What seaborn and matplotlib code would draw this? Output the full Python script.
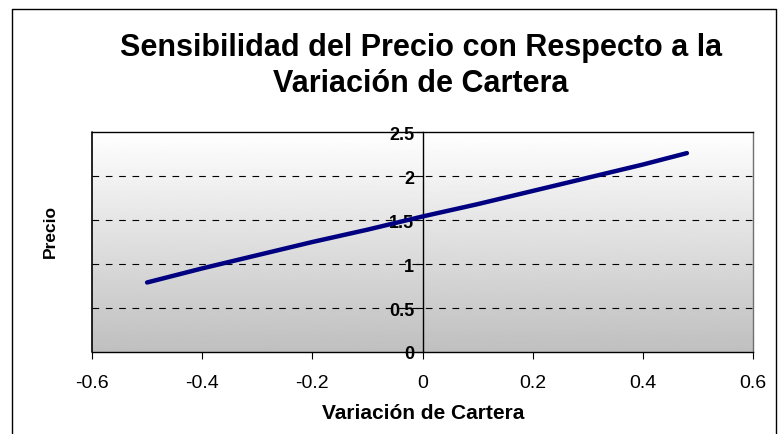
import numpy as np
import matplotlib
matplotlib.use("Agg")
import matplotlib.pyplot as plt
import pandas as pd
import seaborn as sns
from matplotlib.lines import Line2D

# values
variacion = [-0.5, -0.4, -0.3, -0.2, -0.1, 0.0, 0.1, 0.2, 0.3, 0.4, 0.48]
precio = [0.79, 0.95, 1.10, 1.25, 1.39, 1.54, 1.68, 1.83, 1.98, 2.13, 2.26]
x_ticks = [-0.6, -0.4, -0.2, 0, 0.2, 0.4, 0.6]
x_labels = ["-0.6", "-0.4", "-0.2", "0", "0.2", "0.4", "0.6"]
y_ticks = [0, 0.5, 1, 1.5, 2, 2.5]
y_labels = ["0", "0.5", "1", "1.5", "2", "2.5"]
grid_lines = [0.5, 1, 1.5, 2]

data = pd.DataFrame({"Variacion": variacion, "Precio": precio})

sns.set_style("white")
plt.rcParams['font.family'] = ['Liberation Sans', 'DejaVu Sans']
plt.rcParams['text.color'] = 'black'
plt.rcParams['xtick.color'] = 'black'
plt.rcParams['ytick.color'] = 'black'

fig = plt.figure(figsize=(7.78, 4.35), dpi=100)
ax = fig.add_axes([92 / 778, 82 / 435, 661 / 778, 220 / 435])

# grey gradient background, white on top
grad = np.linspace(1, 0, 256).reshape(-1, 1)
ax.imshow(grad, extent=[0, 1, 0, 1], transform=ax.transAxes, aspect="auto",
          cmap="gray", vmin=-3.0, vmax=1.0, zorder=0)

for g in grid_lines:
    ax.axhline(g, color="black", lw=0.8, ls=(0, (6, 6)), zorder=1)

sns.lineplot(data=data, x="Variacion", y="Precio", color="#000080",
             linewidth=3.2, ax=ax, zorder=3)

# y axis crosses at x = 0 (set before tick labels, it resets them)
ax.spines['left'].set_position(('data', 0))
ax.spines['left'].set_zorder(2)

ax.set_xlim(-0.6, 0.6)
ax.set_ylim(0, 2.5)
ax.set_xticks(x_ticks)
ax.set_xticklabels(x_labels, fontsize=14)
ax.set_yticks(y_ticks)
ax.set_yticklabels(y_labels, fontsize=13, fontweight="bold")

for s in ['left', 'bottom', 'top']:
    ax.spines[s].set_color("black")
    ax.spines[s].set_linewidth(1.0)
ax.spines['right'].set_color("#707070")
ax.spines['right'].set_linewidth(1.0)
ax.add_line(Line2D([0, 0], [0, 1], transform=ax.transAxes, color="black",
                   lw=1.2, clip_on=False, zorder=4))
ax.tick_params(axis="both", direction="out", length=5, width=0.8,
               color="black", bottom=True, left=True)
ax.tick_params(axis="x", pad=11)
ax.tick_params(axis="y", pad=1)

ax.set_xlabel("")
ax.set_ylabel("")
fig.text(423 / 778, 1 - 414 / 435, "Variación de Cartera", ha="center",
         va="center", fontsize=15, fontweight="bold")
fig.text(50 / 778, 1 - 232 / 435, "Precio", ha="center", va="center",
         rotation=90, fontsize=12.5, fontweight="bold")

fig.text(421 / 778, 1 - 66 / 435,
         "Sensibilidad del Precio con Respecto a la\nVariación de Cartera",
         ha="center", va="center", fontsize=22, fontweight="bold",
         linespacing=1.25)

# outer chart border (left, top, right)
fig.add_artist(Line2D([12 / 778, 12 / 778, 776 / 778, 776 / 778],
                      [0, 1 - 10 / 435, 1 - 10 / 435, 0],
                      transform=fig.transFigure, color="black", lw=1.0))

fig.savefig("out.png", dpi=100)
